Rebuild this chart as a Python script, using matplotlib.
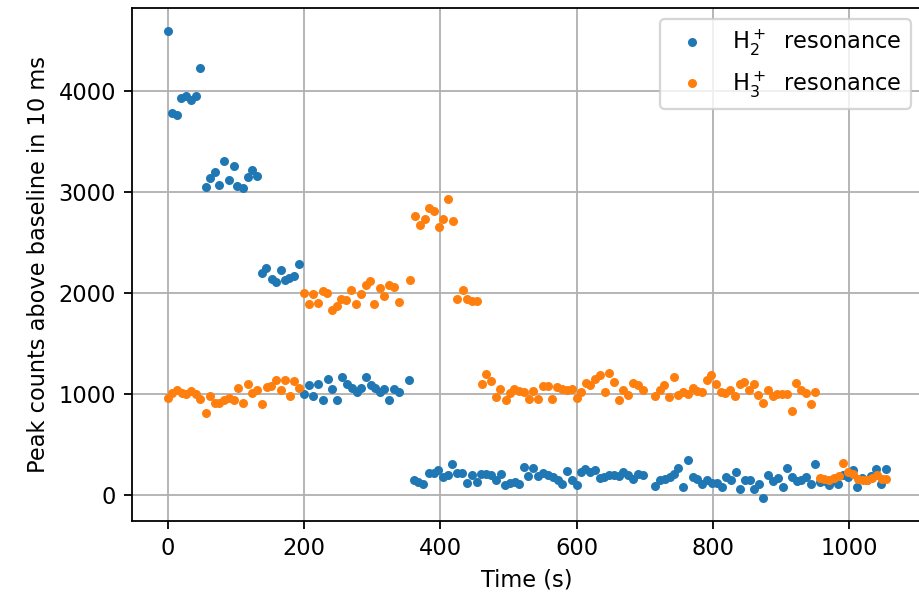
import numpy as np
import matplotlib
matplotlib.use('Agg')
import matplotlib.pyplot as plt

# H2+ resonance peak counts (time in s, counts above baseline)
t_h2 = [0, 6, 13, 20, 26.4, 34.2, 41, 47.4,
        56.2, 62.1, 69.4, 75.7, 83.1, 90, 97.3, 102, 111, 117.4, 124, 130.6,
        137.9, 144.2, 152.6, 158.5, 165.8, 172.1, 178.4, 185.3, 193.1,
        200, 206.9, 213.7, 220.5, 227.4, 235.2, 241.5, 248.9, 255.3, 262.7,
        270, 277.3, 283.6, 290.5, 297.9, 304.6, 311.5, 317.9, 325.2, 332.5,
        338.9, 354.5,
        361.4, 367.7, 374.2, 383.9, 390.8, 397.1, 404.4, 411.7, 417.6, 425,
        432.3, 439.2, 446.1, 453.4, 459.7, 467.1, 474, 481.7, 489.1, 494.9,
        502.3, 509.6, 515.9, 522.8, 529.1, 536.5, 542.9, 550.2, 557.6, 564.9,
        572.3, 579, 585.5, 592.8, 600.1, 606, 612.8, 619.7, 627, 634.3,
        640.6, 648, 655.3, 662.2, 668.5, 675.9, 683.2, 690.5, 697,
        715, 722.4, 729.7, 737, 742.9, 749.2, 756.6, 763.4, 770.4, 777.1,
        784.4, 791.8, 799.1, 805.6, 812.9, 819.2, 826.1, 833.4, 839.8, 847.1,
        854.4, 860.3, 867.6, 874, 880.9, 888.6, 895.1, 902.4, 909.2, 916,
        923, 929.3, 936.2, 943.9, 949.8,
        957, 964, 970.8, 977, 984, 991, 998.7, 1006, 1011.9, 1019, 1025.7,
        1032, 1039.3, 1046.2, 1053.6]
c_h2 = [4595, 3790, 3765, 3935, 3951, 3916, 3955, 4236,
        3051, 3140, 3199, 3077, 3315, 3124, 3259, 3060, 3044, 3150, 3222, 3160,
        2203, 2249, 2143, 2110, 2229, 2127, 2150, 2173, 2288,
        1005, 1090, 985, 1104, 945, 1153, 1054, 945, 1169, 1097,
        1064, 1018, 1064, 1169, 1090, 1064, 1018, 1054, 945, 1054,
        1025, 1144,
        153, 134, 114, 223, 223, 246, 179, 199, 305, 223,
        216, 124, 199, 130, 213, 206, 199, 153, 213, 104,
        120, 130, 114, 275, 186, 265, 186, 223, 203, 179,
        153, 114, 239, 153, 100, 229, 262, 229, 246, 173,
        179, 196, 196, 186, 229, 199, 163, 206, 203,
        94, 147, 163, 179, 206, 269, 80, 345, 179, 163,
        114, 147, 120, 120, 80, 179, 147, 229, 64, 153,
        147, 64, 107, -25, 203, 140, 173, 80, 272, 179,
        140, 153, 179, 107, 305,
        130, 140, 100, 150, 107, 200, 179, 246, 80, 170, 147,
        190, 262, 107, 255]

# H3+ resonance peak counts
t_h3 = [0, 5.9, 13.2, 20.5, 26.9, 34.2, 41, 47.4, 55.7, 62, 68.9, 75.7,
        83, 90, 97.3, 103.6, 110.5, 117.3, 124.1, 131, 138.4, 145.3, 152,
        158.5, 165.8, 172.1, 179.5, 185.8, 193.1,
        200, 206.9, 213.7, 220.5, 227.4, 234.2, 241.5, 248, 254.8, 261.6,
        269.4, 276.3, 283.6, 290.5, 296.9, 303.2, 311.5, 317.9, 325.2, 331.6,
        338.9, 356,
        362.9, 370.2, 377.5, 383.9, 391.2, 397.6, 404.4, 411.3, 418.6,
        425, 432.8, 438.7, 446, 453.4,
        460.7, 467.1, 474, 481.3, 487.6, 496.4, 502.3, 508.6, 515.9, 522.8,
        530.2, 536.5, 543.8, 550.2, 557.6, 564.4, 570.8, 578.1, 585.5, 592.8,
        600.1, 606.5, 613.3, 619.7, 627, 634.3, 641.7, 648, 655.3, 662.2,
        668.5, 675.9, 683.2, 690.5, 697,
        715, 722.4, 728.7, 736, 742.9, 749.2, 756.6, 764, 770.4, 777.1,
        783.6, 790.9, 797.2, 804.6, 811.5, 817.8, 825.1, 832.4, 839.8, 846.1,
        853.4, 860.3, 866.6, 874, 880.9, 887.8, 894.5, 901.4, 908.3, 915.6,
        921.9, 929.3, 936.6, 943.5, 949.8,
        957.1, 963.5, 970.8, 977.7, 984.6, 991.3, 998.7, 1006, 1013.4, 1019.8,
        1026.6, 1033.9, 1040.3, 1047.7, 1054]
c_h3 = [965, 1011, 1038, 1011, 998, 1031, 1005, 955, 813, 982, 915, 912,
        945, 962, 938, 1060, 912, 1104, 1015, 1038, 899, 1070, 1077,
        1144, 1038, 1137, 985, 1130, 1057,
        2001, 1892, 1991, 1906, 2025, 2005, 1837, 1869, 1942, 1935,
        2030, 1890, 1995, 2084, 2117, 1898, 2051, 1975, 2084, 2067,
        1916, 2130,
        2770, 2681, 2738, 2846, 2813, 2658, 2738, 2936, 2711,
        1942, 2028, 1942, 1926, 1919,
        1104, 1203, 1130, 971, 1054, 939, 1011, 1054, 1031, 1021,
        955, 1028, 955, 1077, 1077, 952, 1070, 1054, 1038, 1054,
        965, 1021, 1110, 1087, 1153, 1186, 1021, 1209, 1120, 939,
        1045, 988, 1110, 1087, 1038,
        978, 1038, 1087, 971, 1169, 988, 1021, 998, 1064, 1031,
        1021, 1137, 1186, 1104, 1021, 1011, 1045, 978, 1097, 1120,
        1045, 1097, 988, 912, 1038, 978, 1005, 1005, 1005, 833,
        1110, 1045, 1011, 906, 1021,
        173, 163, 153, 173, 186, 318, 229, 206, 163, 153,
        147, 173, 196, 163, 163]

fig = plt.figure(figsize=(919 / 162, 592 / 162), dpi=162)
ax = fig.add_axes([131.8 / 919, 1 - 521 / 592, 790.1 / 919, 513 / 592])
ax.plot(t_h2, c_h2, '.', label='H$_2^+$  resonance')
ax.plot(t_h3, c_h3, '.', label='H$_3^+$  resonance')
ax.set_xlabel('Time (s)')
ax.set_ylabel('Peak counts above baseline in 10 ms')
ax.grid(True)
ax.legend(loc='upper right')

fig.savefig('out.png', dpi=162)
